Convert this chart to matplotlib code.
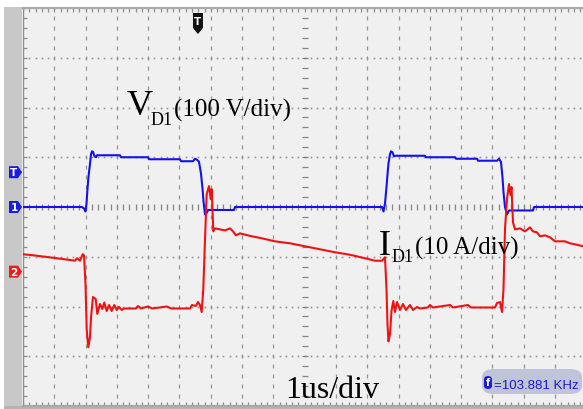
import matplotlib
matplotlib.use('Agg')
import numpy as np
import matplotlib.pyplot as plt
import matplotlib.transforms as mtransforms
from matplotlib.patches import Polygon, Rectangle, FancyBboxPatch

# channel 1: diode voltage V_D1 (V) against time (us)
t_v = [0, 1.885, 1.949, 1.997, 2.029, 2.061, 2.093, 2.141, 2.173, 2.204,
       2.236, 2.284, 2.332, 2.364, 3.099, 3.131, 3.994, 4.026, 5.016, 5.048,
       5.431, 5.495, 5.559, 5.623, 5.687, 5.735, 5.767, 5.815, 5.879, 5.911,
       6.741, 6.773, 11.470, 11.518, 11.565, 11.613, 11.645, 11.677, 11.725, 11.757,
       11.805, 11.853, 11.917, 12.843, 12.875, 13.802, 13.834, 14.505, 14.537, 15.144,
       15.208, 15.272, 15.319, 15.351, 15.399, 15.463, 15.527, 16.294, 16.326, 17.9]
v_d1 = [0, 0, -3, -9, 7, 37, 61, 87, 106, 112,
        111, 102, 100, 104, 104, 100, 100, 96, 96, 92,
        92, 97, 95, 91, 67, 37, 11, -15, -11, -6,
        -6, 0, 0, -9, 7, 40, 65, 88, 106, 112,
        110, 102, 103, 103, 100, 100, 97, 97, 93, 93,
        97, 90, 60, 30, 0, -15, -7, -7, 0, 0]

# channel 2: diode current I_D1 (A) against time (us)
t_i = [0, 0.319, 0.703, 1.086, 1.438, 1.661, 1.725, 1.821, 1.907, 1.949,
       1.997, 2.035, 2.086, 2.141, 2.173, 2.236, 2.323, 2.374, 2.460, 2.534,
       2.597, 2.674, 2.748, 2.834, 2.917, 2.994, 3.067, 3.153, 3.227, 3.610,
       3.674, 3.770, 3.994, 4.121, 4.601, 4.728, 5.335, 5.399, 5.527, 5.591,
       5.655, 5.709, 5.760, 5.815, 5.869, 5.942, 5.997, 6.029, 6.080, 6.134,
       6.294, 6.454, 6.613, 6.709, 6.805, 6.933, 7.252, 7.636, 8.051, 8.530,
       9.010, 9.489, 9.968, 10.447, 10.927, 11.246, 11.470, 11.565, 11.613, 11.645,
       11.677, 11.725, 11.773, 11.831, 11.885, 11.949, 12.045, 12.141, 12.236, 12.364,
       12.460, 12.588, 12.684, 12.939, 13.003, 13.099, 13.642, 13.738, 14.217, 14.313,
       15.080, 15.144, 15.240, 15.304, 15.351, 15.399, 15.463, 15.527, 15.575, 15.607,
       15.655, 15.719, 15.879, 16.038, 16.198, 16.294, 16.422, 16.518, 16.677, 16.837,
       16.997, 17.316, 17.476, 17.636, 17.9]
i_d1 = [3.5, 3.3, 3.0, 2.7, 2.4, 2.2, 2.7, 2.2, 3.5, 3.3,
        -2.5, -11.6, -15.2, -13.2, -9.2, -5.1, -5.5, -8.5, -6.5, -7.5,
        -6.2, -7.9, -6.7, -7.9, -6.7, -7.7, -7.1, -7.7, -7.4, -7.4,
        -6.9, -7.4, -7.0, -7.4, -7.0, -7.4, -7.4, -6.7, -6.9, -6.1,
        -6.7, -8.1, -3.5, 6.5, 15.6, 17.2, 14.6, 16.6, 8.1, 8.7,
        8.5, 8.3, 8.7, 8.1, 7.3, 7.7, 7.2, 6.7, 6.1, 5.7,
        5.1, 4.5, 3.9, 3.4, 2.7, 2.2, 2.2, 2.9, -3.5, -10.6,
        -14.0, -12.6, -7.9, -5.9, -8.1, -6.1, -7.7, -6.5, -7.7, -6.7,
        -7.7, -7.1, -7.4, -7.2, -6.7, -7.2, -6.7, -7.2, -6.7, -7.2,
        -7.2, -6.3, -6.1, -8.1, -3.5, 8.5, 14.6, 17.6, 15.4, 17.0,
        9.9, 8.5, 8.7, 8.1, 8.9, 8.1, 7.9, 7.1, 7.3, 6.9,
        6.1, 6.1, 5.7, 5.5, 5.1]

# scope settings
V_PER_DIV = 100
A_PER_DIV = 10
N_XDIV, N_YDIV = 18, 8
CH2_OFFSET = -1.3       # divisions
TRIG_LEVEL = 70         # V
TRIG_TIME = 5.59        # us
FREQ_KHZ = 103.881

W, H = 583, 410
fig = plt.figure(figsize=(W / 100, H / 100), dpi=100, facecolor='white')


def fx(px):
    return px / W


def fy(py):
    return 1 - py / H


# bezel around the screen
fig.patches.append(Rectangle((fx(4), 0), fx(22) - fx(4), fy(8), transform=fig.transFigure,
                             facecolor='#c8c8c8', edgecolor='none', zorder=-1))
fig.patches.append(Rectangle((fx(4), 0), 1, 3 / H, transform=fig.transFigure,
                             facecolor='#b4b4b4', edgecolor='none', zorder=-1))

ax = fig.add_axes([fx(23), 3 / H, N_XDIV * 31.3 / W, 398 / H])
ax.set_facecolor('#f0f0f0')
ax.set_xlim(0, N_XDIV)
ax.set_ylim(-N_YDIV / 2 * V_PER_DIV, N_YDIV / 2 * V_PER_DIV)
ax.set_xticks([])
ax.set_yticks([])
ax.spines['right'].set_visible(False)
ax.spines['top'].set_color('#aaaaaa')
ax.spines['top'].set_linewidth(1.6)
ax.spines['left'].set_color('#8c8c8c')
ax.spines['left'].set_linewidth(1.0)
ax.spines['bottom'].set_color('#a8a8a8')
ax.spines['bottom'].set_linewidth(1.6)

ymax = N_YDIV / 2 * V_PER_DIV
xsub = np.arange(0, N_XDIV + 0.01, 0.2)
ysub = np.arange(-ymax, ymax + 1, V_PER_DIV / 5)
grid_col = '#949494'

# dotted graticule
for k in range(1, N_XDIV):
    if k == N_XDIV // 2:
        continue
    ax.plot(np.full_like(ysub, k), ysub, ls='none', marker='|', ms=2.2, mew=0.9,
            color=grid_col, zorder=1)
for j in range(-N_YDIV // 2 + 1, N_YDIV // 2):
    if j == 0:
        continue
    ax.plot(xsub, np.full_like(xsub, j * V_PER_DIV), ls='none', marker='s', ms=1.2, mew=0,
            color=grid_col, zorder=1)

# centre axes with minor ticks
ax.vlines(xsub, -6, 6, color='#858585', lw=0.9, zorder=1)
ax.hlines(ysub, N_XDIV / 2 - 0.09, N_XDIV / 2 + 0.09, color='#858585', lw=0.9, zorder=1)

# ticks along the edges
ax.vlines(xsub, ymax - 9, ymax, color='#8c8c8c', lw=0.9, zorder=1)
ax.vlines(xsub, -ymax, -ymax + 9, color='#8c8c8c', lw=0.9, zorder=1)
ax.hlines(ysub, 0, 0.12, color='#8c8c8c', lw=0.9, zorder=1)

# traces
ax.plot(t_v, v_d1, color='#1212f0', lw=1.5, zorder=3)
ax2 = ax.twinx()
ax2.set_ylim((-N_YDIV / 2 - CH2_OFFSET) * A_PER_DIV, (N_YDIV / 2 - CH2_OFFSET) * A_PER_DIV)
ax2.set_axis_off()
ax2.plot(t_i, i_d1, color='#f01212', lw=1.5, zorder=3)


def side_flag(axis, y, label, color):
    tr = mtransforms.ScaledTranslation(0, y, axis.transData)
    verts = [(-14, -6), (-5, -6), (-1, 0), (-5, 6), (-14, 6)]
    axis.add_patch(Polygon(verts, closed=True, transform=tr, facecolor=color,
                           edgecolor='none', clip_on=False, zorder=5))
    axis.text(-9, 0, label, transform=tr, color='white', fontsize=7.5, fontweight='bold',
              ha='center', va='center', clip_on=False, zorder=6)


side_flag(ax, TRIG_LEVEL, 'T', '#1a1ae6')
side_flag(ax, 0, '1', '#1a1ae6')
side_flag(ax2, 0, '2', '#ee1a1a')

# trigger position marker
tr = mtransforms.ScaledTranslation(TRIG_TIME, ymax, ax.transData)
ax.add_patch(Polygon([(-5, -5), (5, -5), (5, -20), (0, -26), (-5, -20)], closed=True,
                     transform=tr, facecolor='#111111', edgecolor='none', clip_on=False, zorder=5))
ax.text(0, -13, 'T', transform=tr, color='white', fontsize=7.5, fontweight='bold',
        ha='center', va='center', zorder=6)

# annotations
serif = 'Liberation Serif'
fig.text(fx(127), fy(115), 'V', family=serif, fontsize=26, va='baseline')
fig.text(fx(151), fy(125), 'D1', family=serif, fontsize=13, va='baseline')
fig.text(fx(174), fy(117), '(100 V/div)', family=serif, fontsize=18, va='baseline')
fig.text(fx(379), fy(255), 'I', family=serif, fontsize=26, va='baseline')
fig.text(fx(392), fy(262), 'D1', family=serif, fontsize=13, va='baseline')
fig.text(fx(415), fy(255), '(10 A/div)', family=serif, fontsize=18, va='baseline')
fig.text(fx(285), fy(398), '1us/div', family=serif, fontsize=23, va='baseline')

# frequency readout
fig.patches.append(FancyBboxPatch((fx(482), fy(395)), fx(582) - fx(482), fy(370) - fy(395),
                                  boxstyle='round,pad=0,rounding_size=0.02',
                                  transform=fig.transFigure, facecolor='#bfc4d9',
                                  edgecolor='none', zorder=5))
fig.patches.append(FancyBboxPatch((fx(484), fy(390)), fx(492) - fx(484), fy(377) - fy(390),
                                  boxstyle='round,pad=0,rounding_size=0.008',
                                  transform=fig.transFigure, facecolor='#1a1ad0',
                                  edgecolor='none', zorder=6))
fig.text(fx(488), fy(383.5), 'f', color='white', fontsize=7, fontweight='bold',
         ha='center', va='center', zorder=7)
fig.text(fx(494), fy(389), '={:.3f} KHz'.format(FREQ_KHZ), family='Liberation Sans',
         fontsize=9.5, color='#1a1ad0', va='baseline', zorder=7)

fig.savefig('out.png', dpi=100)
